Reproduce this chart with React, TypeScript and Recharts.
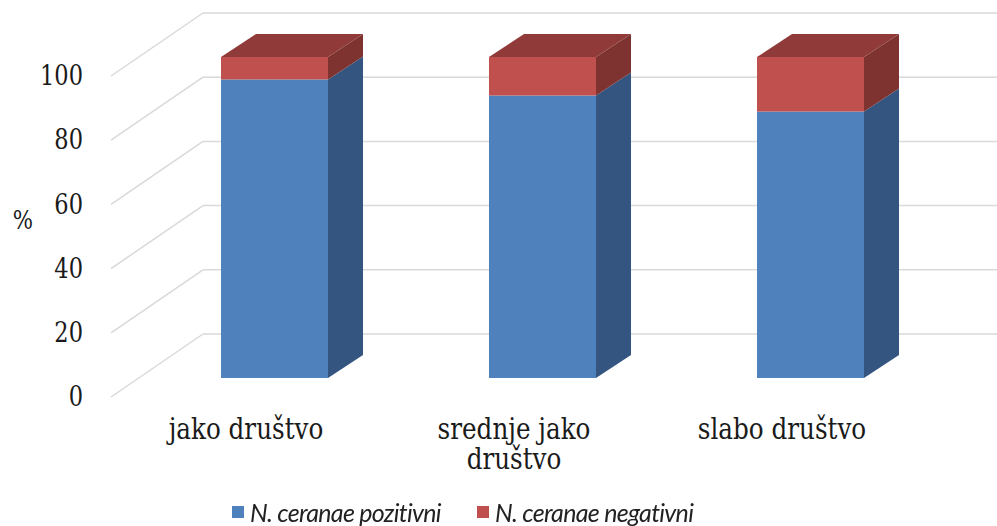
import React from 'react';
import { BarChart, Bar, XAxis, YAxis, CartesianGrid, Legend } from 'recharts';

const categories = ['jako društvo', 'srednje jako društvo', 'slabo društvo'];
const pozitivni = [93, 88, 83];
const negativni = [7, 12, 17];
const yTicks = [0, 20, 40, 60, 80, 100];
const seriesNames = ['N. ceranae pozitivni', 'N. ceranae negativni'];

const data = categories.map((name, i) => ({
  name,
  pozitivni: pozitivni[i],
  negativni: negativni[i],
}));

// depth of the fake 3D box
const DX = 35;
const DY = 23;

// Liberation Serif isn't picked up here, DejaVu Serif squeezed a bit reads like Times
const SERIF = 'DejaVu Serif';
const SQUEEZE = 0.82;

const BLUE = { front: '#4f81bd', side: '#34557f', top: '#3f6ea6' };
const RED = { front: '#c0504d', side: '#7e3330', top: '#903b39' };

const makeBox = (c: typeof BLUE, withTop: boolean) => (props: any) => {
  const { x, y, width, height } = props;
  if (!width || height == null) return <g />;
  const r = x + width;
  const b = y + height;
  return (
    <g>
      <polygon points={`${r},${y} ${r + DX},${y - DY} ${r + DX},${b - DY} ${r},${b}`} fill={c.side} />
      {withTop && (
        <polygon points={`${x},${y} ${x + DX},${y - DY} ${r + DX},${y - DY} ${r},${y}`} fill={c.top} />
      )}
      <rect x={x} y={y} width={width} height={height} fill={c.front} />
    </g>
  );
};

// back wall + side wall gridlines, shifted off the bar plane
const gridLine = (props: any) => {
  const y = props.y1;
  return (
    <g key={props.key}>
      <line x1={111} y1={y + 19} x2={203} y2={y - 44} stroke="#d9d9d9" strokeWidth={1.5} />
      <line x1={203} y1={y - 44} x2={997} y2={y - 44} stroke="#d9d9d9" strokeWidth={1.5} />
    </g>
  );
};

const YTick = (props: any) => {
  const { y, payload } = props;
  return (
    <text transform={`translate(83,${y + 19}) scale(${SQUEEZE},1)`} textAnchor="end" dominantBaseline="central"
      style={{ fontFamily: SERIF, fontSize: 27.5 }} fill="#1a1a1a">
      {payload.value}
    </text>
  );
};

const splitLabel = (s: string) => {
  if (s.length <= 14) return [s];
  const i = s.lastIndexOf(' ');
  return [s.slice(0, i), s.slice(i + 1)];
};

const XTick = (props: any) => {
  const { x, y, payload } = props;
  const lines = splitLabel(payload.value);
  return (
    <g transform={`translate(${x - 28},${y}) scale(0.85,1)`}>
      <text textAnchor="middle" style={{ fontFamily: SERIF, fontSize: 29 }} fill="#1a1a1a">
        {lines.map((l, i) => (
          <tspan key={i} x={0} y={61 + i * 30}>{l}</tspan>
        ))}
      </text>
    </g>
  );
};

const PercentLabel = () => (
  <text transform={`translate(23,220) scale(${SQUEEZE},1)`} textAnchor="middle" dominantBaseline="central"
    style={{ fontFamily: SERIF, fontSize: 26 }} fill="#1a1a1a">
    %
  </text>
);

const LegendContent = () => (
  <div style={{ display: 'flex', alignItems: 'center', fontFamily: 'Lato, sans-serif', fontStyle: 'italic', fontSize: 25, letterSpacing: -0.7, color: '#222', whiteSpace: 'nowrap' }}>
    {seriesNames.map((n, i) => (
      <div key={n} style={{ display: 'flex', alignItems: 'center', marginRight: i === 0 ? 36 : 0 }}>
        <span style={{ width: 12, height: 12, background: i === 0 ? BLUE.front : RED.front, marginRight: 6, display: 'inline-block' }} />
        <span>{n}</span>
      </div>
    ))}
  </div>
);

export default function App() {
  return (
    <div style={{ position: 'fixed', left: 0, top: 0, width: 997, height: 526, background: '#fff' }}>
      <BarChart width={997} height={526} data={data} margin={{ top: 57, right: 53, left: 0, bottom: 38 }}>
        <CartesianGrid vertical={false} horizontal={gridLine} />
        <XAxis dataKey="name" axisLine={false} tickLine={false} tickSize={0} tickMargin={0} height={80} interval={0} tick={<XTick />} />
        <YAxis width={140} domain={[0, 100]} ticks={yTicks} axisLine={false} tickLine={false} tick={<YTick />}
          label={<PercentLabel />} />
        <Legend content={<LegendContent />} wrapperStyle={{ left: 232, top: 497, width: 'auto' }} />
        <Bar dataKey="pozitivni" name={seriesNames[0]} stackId="a" barSize={107} fill={BLUE.front} shape={makeBox(BLUE, false)} isAnimationActive={false} />
        <Bar dataKey="negativni" name={seriesNames[1]} stackId="a" barSize={107} fill={RED.front} shape={makeBox(RED, true)} isAnimationActive={false} />
      </BarChart>
    </div>
  );
}
